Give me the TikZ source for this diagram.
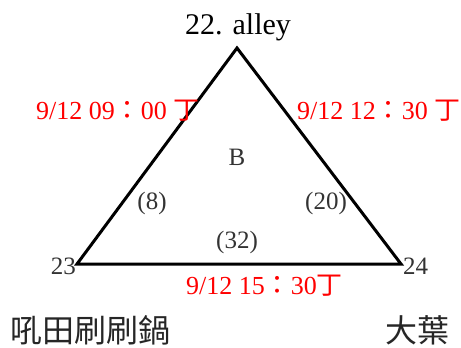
\documentclass[tikz,border=0pt]{standalone}
\usepackage{fontspec}
\setmainfont{Liberation Serif}
\newfontfamily\cjk{Noto Sans CJK TC}

\tikzstyle{lbl} = [text=black!80, inner sep=0pt, font=\fontsize{25}{25}\selectfont]
\tikzstyle{stamp} = [text=red, inner sep=0pt, font=\fontsize{26}{26}\selectfont]
\tikzstyle{place} = [text=black!85, inner sep=0pt, font=\cjk\fontsize{32}{32}\selectfont]
\def\edgewidth{3pt}

\begin{document}
\begin{tikzpicture}[x=1pt,y=-1pt]
                \useasboundingbox (0,0) rectangle (461,348);
                % corners of the triangle
                \coordinate (top) at (237,48);
                \coordinate (left) at (77,264);
                \coordinate (right) at (401,264);
                % draw triangle
                \draw[line width=\edgewidth, line join=miter] (top) -- (left) -- (right) -- cycle;
                % corner names
                \node[inner sep=0pt, font=\fontsize{30}{30}\selectfont] (alley) at (238,27) {22. alley};
                \node[lbl, anchor=east] (n23) at (76,266) {23};
                \node[lbl, anchor=west] (n24) at (403,266) {24};
                \node[lbl] (b) at (237,157) {B};
                % edge weights
                \node[lbl] (w8) at (152,203) {(8)};
                \node[lbl] (w20) at (326,203) {(20)};
                \node[lbl] (w32) at (237,242) {(32)};
                % times
                \node[stamp, anchor=west] (t1) at (36,111) {9/12 09{\cjk ：}00 {\cjk 丁}};
                \node[stamp, anchor=west] (t2) at (297,111) {9/12 12{\cjk ：}30 {\cjk 丁}};
                \node[stamp, anchor=west] (t3) at (186,286) {9/12 15{\cjk ：}30{\cjk 丁}};
                % names
                \node[place, anchor=west] (p1) at (10,330) {吼田刷刷鍋};
                \node[place, anchor=east] (p2) at (450,330) {大葉};
        \end{tikzpicture}
\end{document}
